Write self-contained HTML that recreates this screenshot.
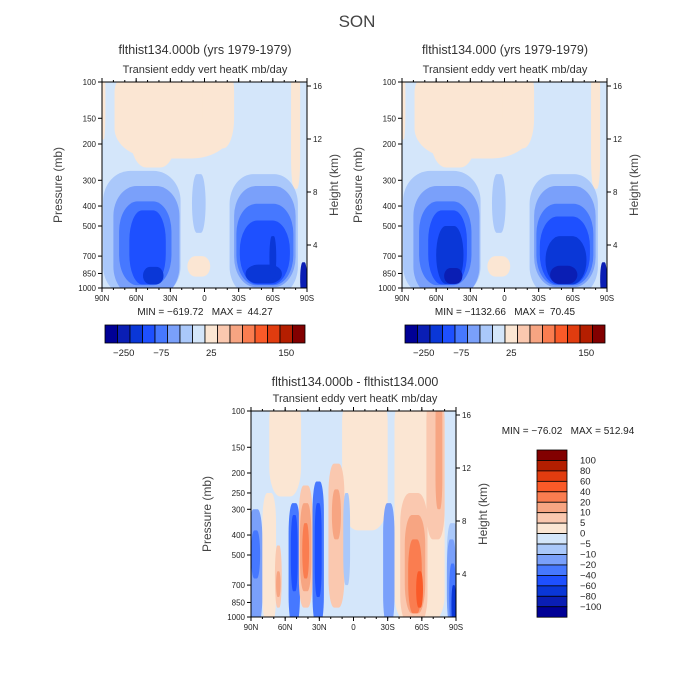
<!DOCTYPE html>
<html><head><meta charset="utf-8"><style>
html,body{margin:0;padding:0;background:#fff}
svg{display:block;font-family:"Liberation Sans",sans-serif;fill:#222}
</style></head><body>
<svg id="c" width="700" height="700" viewBox="0 0 700 700">
<text x="357" y="27" font-size="17" text-anchor="middle" fill="#444">SON</text>
</svg>
<script>
// palette levels 0..15 (dark blue -> dark red)
const palette=["#000096","#0a1eb4","#0a37d7","#1e50ff","#4678ff","#7aa0fa","#aac8fa","#d4e6fa","#fbe6d3","#fac8af","#f7a582","#fa7d50","#fa5a28","#e13c0f","#b41e00","#820000"];
const pressureTicks=[100,150,200,300,400,500,700,850,1000];
const pressureTicksDiff=[100,150,200,250,300,400,500,700,850,1000];
const heightTicks=[4,8,12,16];
const latTicks=[90,60,30,0,-30,-60,-90];
const latLabels=["90N","60N","30N","0","30S","60S","90S"];
const cbLabelsTop=["-250","-75","25","150"];
const cbLabelPosTop=[1,4,8,14];
const cbLabelsDiff=["100","80","60","40","20","10","5","0","-5","-10","-20","-40","-60","-80","-100"];
// blobs: [lat, pTop, pBottom, halfWidthDeg, level]
const blobsA=[
 [27,80,235,52,8],[45,80,260,20,8],[-12,80,210,14,8],[-80,80,330,4,8],[89,80,190,2,8],
 [55,270,1100,34,6],[51,320,1100,29,5],[52,380,970,23,4],[50,420,960,16,3],[45,790,960,9,2],
 [5,280,540,6,6],[5,700,880,10,8],
 [-52,280,1100,30,6],[-53,320,990,27,5],[-53,390,970,25,4],[-53,470,960,22,3],[-52,770,950,16,2],[-60,560,900,3,2],[-87,750,1100,3,1]];
const blobsB=[
 [27,80,235,52,8],[45,80,260,20,8],[-12,80,210,14,8],[-80,80,330,4,8],[89,80,190,2,8],
 [55,270,1100,34,6],[51,320,1100,29,5],[52,380,970,23,4],[50,420,960,17,3],[48,500,955,12,2],[45,800,955,8,1],
 [5,280,540,6,6],[5,700,880,10,8],
 [-52,280,1100,30,6],[-53,320,990,27,5],[-53,390,970,25,4],[-53,450,960,22,3],[-54,560,960,18,2],[-52,780,955,12,1],[-87,750,1100,3,1]];
const blobsD=[
 [60,80,260,14,8],[-10,80,380,20,8],[-58,80,1100,22,8],[-72,80,420,8,9],[-75,80,300,3,10],
 [86,300,1100,6,5],[86,380,650,4,4],
 [74,250,1100,6,8],[66,450,900,3,9],[66,600,800,2,10],
 [52,280,1100,5,4],[52,320,750,3,3],
 [42,230,900,6,9],[42,280,750,5,10],[42,350,650,3,11],
 [31,220,1100,5,4],[31,280,800,3,3],
 [15,180,900,7,9],[15,240,420,4,10],[6,250,700,3,6],
 [-31,280,1100,5,5],
 [-53,250,1100,12,9],[-54,320,960,9,10],[-54,420,960,6,11],[-58,600,900,3,12],
 [-87,350,1100,5,6],[-86,420,1100,4,5],[-87,550,1100,3,4],[-88,700,1100,2,2]];

const svg=document.getElementById('c');
const NS="http://www.w3.org/2000/svg";
function mk(tag,attrs,name,parent){const e=document.createElementNS(NS,tag);for(const k in attrs)e.setAttribute(k,attrs[k]);


(parent||svg).appendChild(e);return e;}
function txt(x,y,s,size,anchor,name,extra){const t=mk('text',Object.assign({x:x,y:y,'font-size':size,'text-anchor':anchor||'middle'},extra||{}),name);t.textContent=s;return t;}

function panel(x0,y0,blobs,pt,id){
 const W=205,H=206;
 const X=lat=>x0+(90-lat)/180*W;
 const Y=p=>y0+Math.log(p/100)/Math.log(10)*H;
 const g=mk('g',{},id+'-plot');
 const clip=mk('clipPath',{id:id+'clip'},id+'-clip',g);
 mk('rect',{x:x0,y:y0,width:W,height:H},id+'-clip-rect',clip);
 const f=mk('g',{'clip-path':'url(#'+id+'clip)'},id+'-field',g);
 mk('rect',{x:x0,y:y0,width:W,height:H,fill:palette[7]},id+'-background',f);
 blobs.forEach((b,i)=>{
  const cx=X(b[0]),hw=b[3]/180*W,yt=Y(b[1]),yb=Y(b[2]);
  mk('rect',{x:cx-hw,y:yt,width:2*hw,height:yb-yt,rx:hw*0.7,ry:Math.min(30,(yb-yt)/2),fill:palette[b[4]]},id+'-contour-'+i,f);
 });
 mk('rect',{x:x0,y:y0,width:W,height:H,fill:'none',stroke:'#000','stroke-width':1},id+'-frame',g);
 pt.forEach(p=>{const y=Y(p);
  mk('line',{x1:x0-4,y1:y,x2:x0,y2:y,stroke:'#000'},id+'-ytick',g);
  txt(x0-6,y+3,String(p),8,'end',id+'-ytick-label');});
 heightTicks.forEach(z=>{const y=y0+4+(16-z)*13.25;
  mk('line',{x1:x0+W,y1:y,x2:x0+W+4,y2:y,stroke:'#000'},id+'-height-tick',g);
  txt(x0+W+6,y+3,String(z),8,'start',id+'-height-label');});
 latTicks.forEach((l,i)=>{const x=X(l);
  mk('line',{x1:x,y1:y0+H,x2:x,y2:y0+H+4,stroke:'#000'},id+'-xtick',g);
  mk('line',{x1:x,y1:y0,x2:x,y2:y0-4,stroke:'#000'},id+'-xtick-top',g);
  txt(x,y0+H+13,latLabels[i],8,'middle',id+'-xtick-label');});
 for(let l=90;l>=-90;l-=10){const x=X(l);
  mk('line',{x1:x,y1:y0+H,x2:x,y2:y0+H+2,stroke:'#000'},id+'-minor-tick',g);
  mk('line',{x1:x,y1:y0,x2:x,y2:y0-2,stroke:'#000'},id+'-minor-tick-top',g);}
 txt(0,0,'Pressure (mb)',12,'middle',id+'-y-axis-title',{transform:`translate(${x0-40},${y0+H/2}) rotate(-90)`,fill:'#444'});
 txt(0,0,'Height (km)',12,'middle',id+'-height-axis-title',{transform:`translate(${x0+W+31},${y0+H/2}) rotate(-90)`,fill:'#444'});
}
txt(205,54,'flthist134.000b (yrs 1979-1979)',12.5,'middle','left-panel-title',{fill:'#333'});
txt(205,73,'Transient eddy vert heatK mb/day',11,'middle','left-panel-subtitle',{fill:'#333'});
txt(505,54,'flthist134.000 (yrs 1979-1979)',12.5,'middle','right-panel-title',{fill:'#333'});
txt(505,73,'Transient eddy vert heatK mb/day',11,'middle','right-panel-subtitle',{fill:'#333'});
txt(355,386,'flthist134.000b - flthist134.000',12.5,'middle','diff-panel-title',{fill:'#333'});
txt(355,402,'Transient eddy vert heatK mb/day',11,'middle','diff-panel-subtitle',{fill:'#333'});
panel(102,82,blobsA,pressureTicks,'panel-a');
panel(402,82,blobsB,pressureTicks,'panel-b');
panel(251,411,blobsD,pressureTicksDiff,'panel-diff');
const S='\u00a0';
txt(205,315,'MIN'+S+'='+S+'\u2212619.72'+S+S+S+'MAX'+S+'='+S+S+'44.27',10,'middle','left-minmax');
txt(505,315,'MIN'+S+'='+S+'\u22121132.66'+S+S+S+'MAX'+S+'='+S+S+'70.45',10,'middle','right-minmax');
txt(568,434,'MIN'+S+'='+S+'\u221276.02'+S+S+S+'MAX'+S+'='+S+'512.94',10,'middle','diff-minmax');
function hbar(x0,y0,id){
 const bw=12.5;
 palette.forEach((c,i)=>mk('rect',{x:x0+i*bw,y:y0,width:bw,height:18,fill:c,stroke:'#000','stroke-width':0.8},id+'-box',svg));
 cbLabelsTop.forEach((s,i)=>txt(x0+(cbLabelPosTop[i]+0.5)*bw,y0+31,s.replace('-','\u2212'),9.5,'middle',id+'-label'));
}
hbar(105,325,'left-colorbar');hbar(405,325,'right-colorbar');
const bh=10.45;
palette.slice().reverse().forEach((c,i)=>mk('rect',{x:537,y:450+i*bh,width:30,height:bh,fill:c,stroke:'#000','stroke-width':0.8},'diff-colorbar-box'));
cbLabelsDiff.forEach((s,i)=>txt(580,450+(i+1)*bh+3,s.replace('-','\u2212'),9.5,'start','diff-colorbar-label'));
</script>
</body></html>
